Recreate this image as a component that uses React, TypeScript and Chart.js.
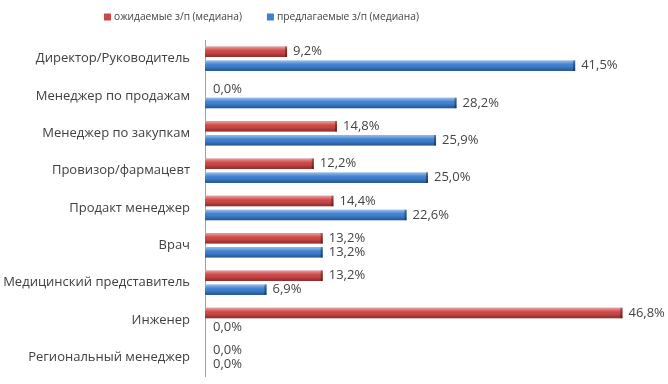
import React, { useEffect, useRef } from 'react';
import { Chart, registerables } from 'chart.js';

Chart.register(...registerables);

const categories = [
  'Директор/Руководитель',
  'Менеджер по продажам',
  'Менеджер по закупкам',
  'Провизор/фармацевт',
  'Продакт менеджер',
  'Врач',
  'Медицинский представитель',
  'Инженер',
  'Региональный менеджер',
];
const seriesNames = ['ожидаемые з/п (медиана)', 'предлагаемые з/п (медиана)'];
const expectedValues = [9.2, 0.0, 14.8, 12.2, 14.4, 13.2, 13.2, 46.8, 0.0];
const offeredValues = [41.5, 28.2, 25.9, 25.0, 22.6, 13.2, 6.9, 0.0, 0.0];
const seriesColors = ['#d04646', '#3d80d2'];

const FONT = '"Open Sans", "Liberation Sans", Arial, sans-serif';

const fmt = (v: number) => v.toFixed(1).replace('.', ',') + '%';

const shadePlugin = {
  id: 'shade',
  afterDatasetsDraw(chart: any) {
    const ctx = chart.ctx;
    chart.data.datasets.forEach((_ds: any, di: number) => {
      const meta = chart.getDatasetMeta(di);
      meta.data.forEach((bar: any) => {
        const left = Math.min(bar.base, bar.x);
        const right = Math.max(bar.base, bar.x);
        const w = right - left;
        if (w < 1) return;
        const top = bar.y - bar.height / 2;
        const h = bar.height;
        const g = ctx.createLinearGradient(0, top, 0, top + h);
        g.addColorStop(0, 'rgba(255,255,255,0.5)');
        g.addColorStop(0.3, 'rgba(255,255,255,0.12)');
        g.addColorStop(0.55, 'rgba(0,0,0,0)');
        g.addColorStop(1, 'rgba(0,0,0,0.35)');
        ctx.save();
        ctx.fillStyle = g;
        ctx.fillRect(left, top, w, h);
        ctx.fillStyle = 'rgba(0,0,0,0.35)';
        ctx.fillRect(right - 2, top, 2, h);
        ctx.restore();
      });
    });
  },
};

const labelPlugin = {
  id: 'valueLabels',
  afterDatasetsDraw(chart: any) {
    const ctx = chart.ctx;
    ctx.save();
    ctx.font = '13px ' + FONT;
    ctx.fillStyle = '#444444';
    ctx.textAlign = 'left';
    ctx.textBaseline = 'middle';
    chart.data.datasets.forEach((ds: any, di: number) => {
      const meta = chart.getDatasetMeta(di);
      meta.data.forEach((bar: any, i: number) => {
        const v = ds.data[i];
        const off = v === 0 ? 8 : 6;
        ctx.fillText(fmt(v), Math.max(bar.x, bar.base) + off, bar.y);
      });
    });
    ctx.restore();
  },
};

const legendPlugin = {
  id: 'customLegend',
  afterDraw(chart: any) {
    const ctx = chart.ctx;
    ctx.save();
    ctx.font = '10.2px ' + FONT;
    ctx.textBaseline = 'middle';
    const y = 17;
    let x = 104;
    chart.data.datasets.forEach((ds: any, di: number) => {
      ctx.fillStyle = seriesColors[di];
      ctx.fillRect(x, y - 3.5, 7, 7);
      ctx.fillStyle = '#444';
      ctx.fillText(ds.label, x + 10, y);
      x += 10 + ctx.measureText(ds.label).width + 25;
    });
    ctx.restore();
  },
};

export default function App() {
  const ref = useRef<HTMLCanvasElement>(null);
  useEffect(() => {
    if (!ref.current) return;
    const chart = new Chart(ref.current, {
      type: 'bar',
      data: {
        labels: categories,
        datasets: [
          { label: seriesNames[0], data: expectedValues, backgroundColor: seriesColors[0] },
          { label: seriesNames[1], data: offeredValues, backgroundColor: seriesColors[1] },
        ],
      },
      options: {
        indexAxis: 'y',
        animation: false,
        responsive: false,
        maintainAspectRatio: false,
        barPercentage: 0.75,
        categoryPercentage: 0.75,
        layout: { padding: { top: 40, bottom: 8, right: 17, left: 0 } },
        plugins: { legend: { display: false }, tooltip: { enabled: false } },
        scales: {
          x: { display: false, min: 0, max: 50, afterFit: (s: any) => { s.height = 0; } },
          y: {
            grid: { display: false, drawTicks: false },
            border: { display: true, color: '#a0a0a0', width: 1 },
            ticks: { color: '#404040', font: { family: FONT, size: 13 }, padding: 15 },
            afterFit: (s: any) => {
              s.width = 205;
              s.paddingTop = 0;
              s.paddingBottom = 0;
            },
          },
        },
      },
      plugins: [shadePlugin, labelPlugin, legendPlugin],
    });
    return () => chart.destroy();
  }, []);
  return (
    <div style={{ position: 'fixed', left: 0, top: 0, width: 668, height: 384, background: '#fff' }}>
      <canvas ref={ref} width={668} height={384} style={{ width: 668, height: 384 }} />
    </div>
  );
}
